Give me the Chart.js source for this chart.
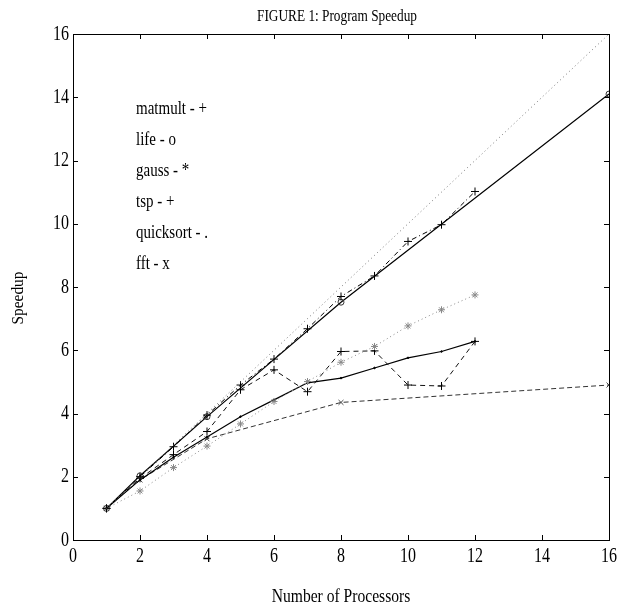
<!DOCTYPE html>
<html>
<head>
<meta charset="utf-8">
<script src="https://cdn.jsdelivr.net/npm/chart.js@4/dist/chart.umd.min.js"></script>
<style>
    html, body { margin: 0; padding: 0; background: #fff; }
    #wrap { width: 624px; height: 607px; }
</style>
</head>
<body>
<div id="wrap"><canvas id="speedup-chart"></canvas></div>
<script>
// DATA
// ---------------------------------------------------
const procs = [ 1, 2, 3, 4, 5, 6, 7, 8, 9, 10, 11, 12 ];
const procsPow2 = [ 1, 2, 4, 8, 16 ];
const idealProcs = [ 1, 16 ];
const idealSpeedup = [ 1, 16 ];
const matmult = [ 1, 2.0, 2.95, 3.95, 4.9, 5.72, 6.68, 7.7, 8.35, 9.44, 9.97, 11.02 ];
const life = [ 1, 2.03, 3.9, 7.52, 14.1 ];
const gauss = [ 1, 1.55, 2.29, 2.97, 3.67, 4.38, 5.01, 5.62, 6.12, 6.77, 7.28, 7.75 ];
const tsp = [ 1, 1.95, 2.7, 3.43, 4.75, 5.38, 4.69, 5.96, 5.98, 4.9, 4.87, 6.28 ];
const quicksort = [ 1, 1.9, 2.62, 3.26, 3.9, 4.43, 4.97, 5.12, 5.44, 5.76, 5.96, 6.28 ];
const fft = [ 1, 1.9, 3.2, 4.35, 4.9 ];
const legendLines = [ 'matmult - +', 'life - o', 'gauss - *', 'tsp - +', 'quicksort - .', 'fft - x' ];
const ticksX = [ 0, 2, 4, 6, 8, 10, 12, 14, 16 ];
const ticksY = [ 0, 2, 4, 6, 8, 10, 12, 14, 16 ];

const SERIF = '"Liberation Serif", "Times New Roman", serif';

function pts( xs, ys ) {
    return xs.map( function ( x, i ) { return { x: x, y: ys[ i ] }; } );
}

// text a bit taller than wide, like the old postscript output
function tallText( ctx, t, x, y, size, stretch, align, rot ) {
    ctx.save();
    ctx.translate( x, y );
    if ( rot ) ctx.rotate( rot );
    ctx.scale( 1, stretch );
    ctx.font = size + 'px ' + SERIF;
    ctx.textAlign = align;
    ctx.textBaseline = 'middle';
    ctx.fillText( t, 0, 0 );
    ctx.restore();
}

window.addEventListener( 'load', function () {
    // BOX, INWARD TICKS AND TEXT
    // ---------------------------------------------------
    const framePlugin = {
        id: 'frame',
        afterDatasetsDraw: function ( chart ) {
            const ctx = chart.ctx;
            const a = chart.chartArea;
            const sx = chart.scales.x;
            const sy = chart.scales.y;
            const len = 5;
            ctx.save();
            ctx.strokeStyle = '#000';
            ctx.fillStyle = '#000';
            ctx.lineWidth = 1;
            ctx.strokeRect( a.left + 0.5, a.top + 0.5, a.right - a.left, a.bottom - a.top );
            ctx.beginPath();
            ticksX.forEach( function ( v ) {
                const px = Math.round( sx.getPixelForValue( v ) ) + 0.5;
                ctx.moveTo( px, a.bottom ); ctx.lineTo( px, a.bottom - len );
                ctx.moveTo( px, a.top ); ctx.lineTo( px, a.top + len );
            });
            ticksY.forEach( function ( v ) {
                const py = Math.round( sy.getPixelForValue( v ) ) + 0.5;
                ctx.moveTo( a.left, py ); ctx.lineTo( a.left + len, py );
                ctx.moveTo( a.right, py ); ctx.lineTo( a.right - len, py );
            });
            ctx.stroke();
            // tick labels
            ticksX.forEach( function ( v ) {
                tallText( ctx, String( v ), sx.getPixelForValue( v ), a.bottom + 16, 16, 1.35, 'center' );
            });
            ticksY.forEach( function ( v ) {
                tallText( ctx, String( v ), a.left - 4, sy.getPixelForValue( v ), 16, 1.35, 'right' );
            });
            // legend text
            legendLines.forEach( function ( t, i ) {
                tallText( ctx, t, sx.getPixelForValue( 1.88 ), sy.getPixelForValue( 13.62 - i * 0.98 ), 15, 1.22, 'left' );
            });
            // titles
            tallText( ctx, 'FIGURE 1: Program Speedup', ( a.left + a.right ) / 2 - 4, 17, 13.3, 1.25, 'center' );
            tallText( ctx, 'Number of Processors', ( a.left + a.right ) / 2, 597, 15.6, 1.2, 'center' );
            tallText( ctx, 'Speedup', 18, 298, 15.4, 1.15, 'center', -Math.PI / 2 );
            ctx.restore();
        }
    };
    // DATASETS
    // ---------------------------------------------------
    const base = { showLine: true, borderWidth: 1, tension: 0, fill: false, pointBorderWidth: 1 };
    const datasets = [
        Object.assign( {}, base, {
            label: 'ideal', data: pts( idealProcs, idealSpeedup ),
            borderColor: '#777', borderDash: [ 1, 3 ], pointRadius: 0
        }),
        Object.assign( {}, base, {
            label: 'matmult', data: pts( procs, matmult ),
            borderColor: '#000', borderDash: [ 5, 3, 1, 3 ],
            pointStyle: 'cross', pointRadius: 4, pointBorderColor: '#000'
        }),
        Object.assign( {}, base, {
            label: 'life', data: pts( procsPow2, life ),
            borderColor: '#000', borderWidth: 1.2,
            pointStyle: 'circle', pointRadius: 3, pointBorderColor: '#333', pointBackgroundColor: 'rgba(0,0,0,0)'
        }),
        Object.assign( {}, base, {
            label: 'gauss', data: pts( procs, gauss ),
            borderColor: '#888', borderDash: [ 1, 3 ],
            pointStyle: 'star', pointRadius: 3.5, pointBorderColor: '#888'
        }),
        Object.assign( {}, base, {
            label: 'tsp', data: pts( procs, tsp ),
            borderColor: '#111', borderDash: [ 5, 4 ],
            pointStyle: 'cross', pointRadius: 4, pointBorderColor: '#000'
        }),
        Object.assign( {}, base, {
            label: 'quicksort', data: pts( procs, quicksort ),
            borderColor: '#000', borderWidth: 1.2,
            pointStyle: 'circle', pointRadius: 0.8, pointBorderColor: '#000', pointBackgroundColor: '#000'
        }),
        Object.assign( {}, base, {
            label: 'fft', data: pts( procsPow2, fft ),
            borderColor: '#333', borderDash: [ 5, 3 ],
            pointStyle: 'crossRot', pointRadius: 3.5, pointBorderColor: '#444'
        })
    ];
    // CHART
    // ---------------------------------------------------
    new Chart( document.querySelector( '#speedup-chart' ), {
        type: 'scatter',
        data: { datasets: datasets },
        options: {
            responsive: true,
            maintainAspectRatio: false,
            animation: false,
            layout: { padding: { top: 34, right: 15, left: 0, bottom: 0 } },
            plugins: {
                legend: { display: false },
                tooltip: { enabled: false }
            },
            scales: {
                x: {
                    type: 'linear', min: 0, max: 16,
                    afterBuildTicks: function ( s ) { s.ticks = ticksX.map( function ( v ) { return { value: v }; } ); },
                    afterFit: function ( s ) { s.height = 67; },
                    grid: { display: false },
                    border: { display: false },
                    ticks: { display: false }
                },
                y: {
                    type: 'linear', min: 0, max: 16,
                    afterBuildTicks: function ( s ) { s.ticks = ticksY.map( function ( v ) { return { value: v }; } ); },
                    afterFit: function ( s ) { s.width = 73; },
                    grid: { display: false },
                    border: { display: false },
                    ticks: { display: false }
                }
            }
        },
        plugins: [ framePlugin ]
    });
}, false );
</script>
</body>
</html>
